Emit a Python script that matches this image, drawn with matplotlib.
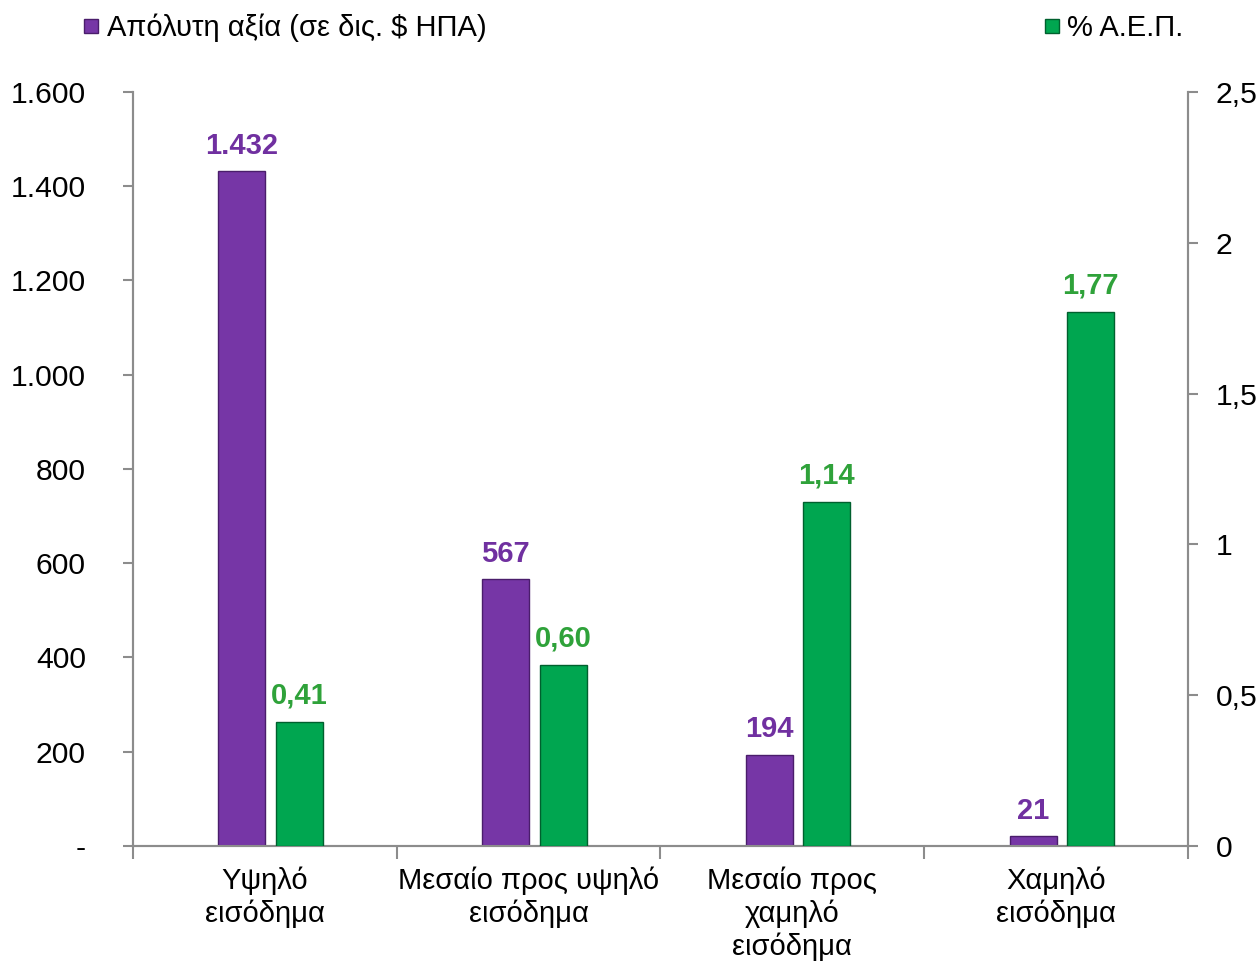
"""Απόλυτη αξία και % Α.Ε.Π. ανά ομάδα εισοδήματος."""

import matplotlib
matplotlib.use("Agg")
import matplotlib.pyplot as plt
import numpy as np
from matplotlib.lines import Line2D

plt.rcParams["font.family"] = ["Liberation Sans", "DejaVu Sans"]

categories = [
    "Υψηλό\nεισόδημα",
    "Μεσαίο προς υψηλό\nεισόδημα",
    "Μεσαίο προς\nχαμηλό\nεισόδημα",
    "Χαμηλό\nεισόδημα",
]
absolute_values = [1432, 567, 194, 21]
gdp_share = [0.41, 0.60, 1.14, 1.77]
absolute_labels = ["1.432", "567", "194", "21"]
gdp_labels = ["0,41", "0,60", "1,14", "1,77"]

left_ticks = [0, 200, 400, 600, 800, 1000, 1200, 1400, 1600]
left_tick_labels = ["-", "200", "400", "600", "800", "1.000", "1.200", "1.400", "1.600"]
right_ticks = [0, 0.5, 1, 1.5, 2, 2.5]
right_tick_labels = ["0", "0,5", "1", "1,5", "2", "2,5"]

PURPLE = "#7636a6"
PURPLE_EDGE = "#4a1d6b"
PURPLE_TEXT = "#7030a0"
GREEN = "#00a650"
GREEN_EDGE = "#00602e"
GREEN_TEXT = "#2fa23a"
SPINE = "#8c8c8c"
FONT = 21
TICK_FONT = 21.7

fig = plt.figure(figsize=(12.57, 9.61), dpi=100)
ax = fig.add_axes([0.1058, 0.1197, 0.8393, 0.7846])
ax2 = ax.twinx()

x = np.arange(len(categories))
width = 0.178
bars1 = ax.bar(x - 0.087, absolute_values, width, color=PURPLE,
               edgecolor=PURPLE_EDGE, linewidth=1.0, zorder=3)
bars2 = ax2.bar(x + 0.131, gdp_share, width, color=GREEN,
                edgecolor=GREEN_EDGE, linewidth=1.0, zorder=3)

for bar, text in zip(bars1, absolute_labels):
    ax.annotate(text, (bar.get_x() + bar.get_width() / 2, bar.get_height()),
                xytext=(0, 8), textcoords="offset points", ha="center",
                va="bottom", fontsize=FONT, fontweight="bold", color=PURPLE_TEXT)
for bar, text in zip(bars2, gdp_labels):
    ax2.annotate(text, (bar.get_x() + bar.get_width() / 2, bar.get_height()),
                 xytext=(0, 9), textcoords="offset points", ha="center",
                 va="bottom", fontsize=FONT, fontweight="bold", color=GREEN_TEXT)

ax.set_xlim(-0.5, len(categories) - 0.5)
ax.set_ylim(0, 1600)
ax2.set_ylim(0, 2.5)

ax.set_yticks(left_ticks)
ax.set_yticklabels(left_tick_labels, fontsize=TICK_FONT)
ax2.set_yticks(right_ticks)
ax2.set_yticklabels(right_tick_labels, fontsize=TICK_FONT)

ax.set_xticks(x)
ax.set_xticklabels(categories, fontsize=FONT, linespacing=1.2)
ax.set_xticks(np.arange(len(categories) + 1) - 0.5, minor=True)
ax.tick_params(axis="x", which="major", length=0, pad=15)
ax.tick_params(axis="x", which="minor", length=9, width=1.5, color=SPINE)
ax.tick_params(axis="y", length=7, width=1.5, color=SPINE, pad=27)
ax2.tick_params(axis="y", length=7, width=1.5, color=SPINE, pad=13)

for a in (ax, ax2):
    a.spines["top"].set_visible(False)
    for side in ("left", "right", "bottom"):
        a.spines[side].set_color(SPINE)
        a.spines[side].set_linewidth(1.5)

legend_style = dict(frameon=False, fontsize=FONT, handlelength=0.55,
                    handletextpad=0.25, borderaxespad=0)
h1 = Line2D([], [], marker="s", linestyle="none", markersize=10,
            markerfacecolor=PURPLE, markeredgecolor=PURPLE_EDGE)
h2 = Line2D([], [], marker="s", linestyle="none", markersize=10,
            markerfacecolor=GREEN, markeredgecolor=GREEN_EDGE)
fig.legend([h1], ["Απόλυτη αξία (σε δις. $ ΗΠΑ)"], loc="center left",
           bbox_to_anchor=(0.057, 0.971), **legend_style)
fig.legend([h2], ["% Α.Ε.Π."], loc="center left",
           bbox_to_anchor=(0.821, 0.971), **legend_style)

fig.savefig("out.png", dpi=100)
